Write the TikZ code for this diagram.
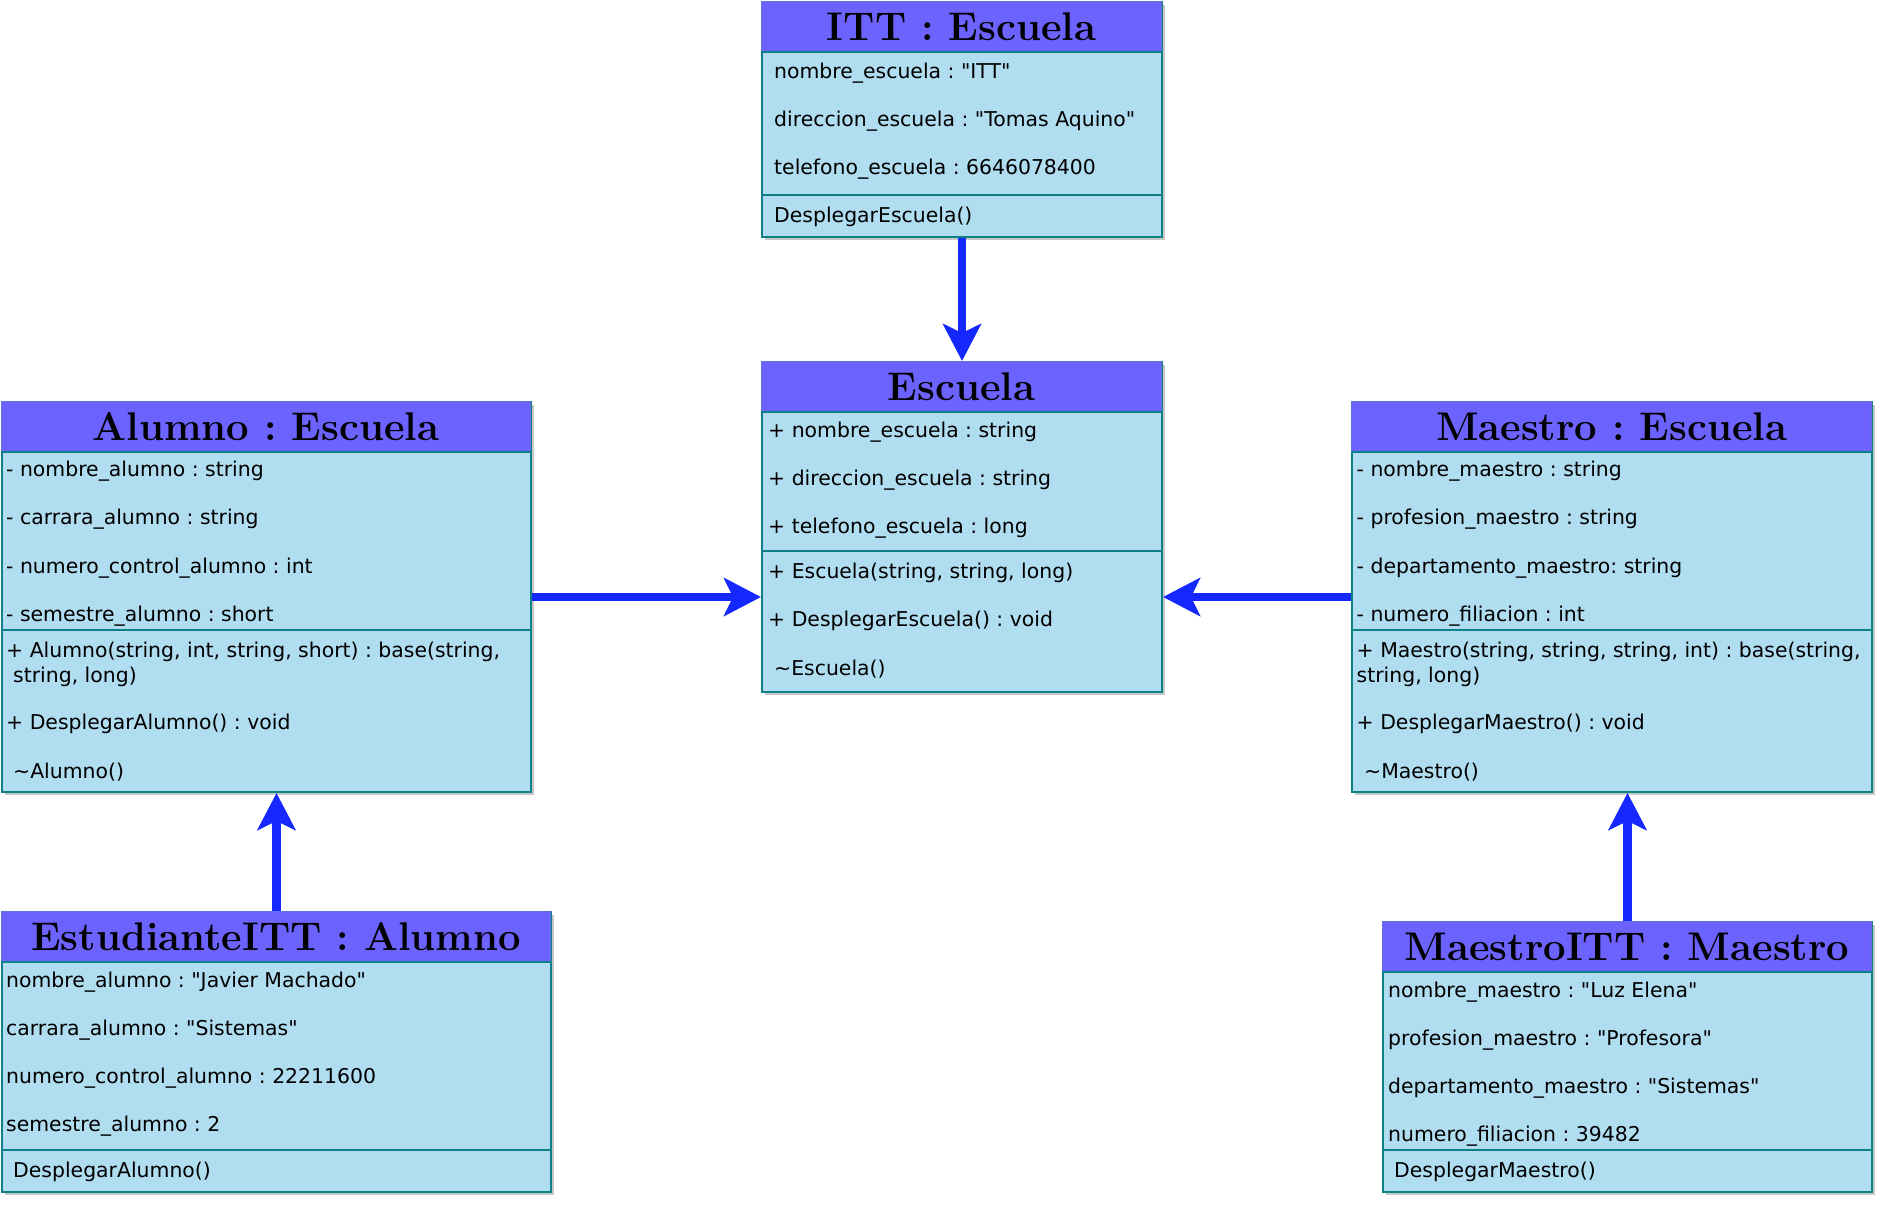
\documentclass[tikz,border=0pt]{standalone}
\usepackage{fontspec}
\newfontfamily\bodyfont{DejaVu Sans}
\usetikzlibrary{arrows.meta,shadows}
\definecolor{hdr}{RGB}{108,99,255}
\definecolor{hdrline}{RGB}{96,112,220}
\definecolor{bodyc}{RGB}{177,221,240}
\definecolor{edgec}{RGB}{14,128,136}
\definecolor{arrowblue}{RGB}{20,40,255}
\tikzset{
  classbox/.style={draw=edgec, line width=2pt, fill=bodyc, anchor=north west, inner sep=0pt,
    drop shadow={shadow xshift=3pt, shadow yshift=-3pt, opacity=0.22, fill=black}},
  headbox/.style={draw=hdrline, line width=1pt, fill=hdr, anchor=north west, inner sep=0pt,
    minimum height=50pt, font=\fontsize{40}{42}\selectfont\bfseries\frenchspacing},
  member/.style={anchor=west, inner sep=0pt, yshift=-3pt, font=\bodyfont\fontsize{20.4}{24}\selectfont\frenchspacing},
  divider/.style={draw=edgec, line width=2pt},
  inherit/.style={draw=arrowblue, line width=8.5pt, -{Stealth[length=37pt,width=38pt,inset=9pt]}}
}
\begin{document}
\frenchspacing
\begin{tikzpicture}[x=1pt,y=-1pt]
\useasboundingbox (0,0) rectangle (1884,1205);

% ---------- ITT : Escuela ----------
\node[classbox, minimum width=400pt, minimum height=235pt] (itt) at (761,1) {};
\node[headbox, minimum width=400pt] (itth) at (itt.north west) {ITT : Escuela};
\draw[divider] (itth.south west) -- (itth.south east);
\draw[divider] (itt.west |- 0,195) -- (itt.east |- 0,195);
\node[member] (itta1) at (774,69.7) {nombre\_escuela : "ITT"};
\node[member] (itta2) at (774,117.7) {direccion\_escuela : "Tomas Aquino"};
\node[member] (itta3) at (774,165.8) {telefono\_escuela : 6646078400};
\node[member] (ittm1) at (774,214) {DesplegarEscuela()};

% ---------- Escuela ----------
\node[classbox, minimum width=400pt, minimum height=330pt] (esc) at (761,361) {};
\node[headbox, minimum width=400pt] (esch) at (esc.north west) {Escuela};
\draw[divider] (esch.south west) -- (esch.south east);
\draw[divider] (esc.west |- 0,550.5) -- (esc.east |- 0,550.5);
\node[member] (esca1) at (768,429) {+ nombre\_escuela : string};
\node[member] (esca2) at (768,477) {+ direccion\_escuela : string};
\node[member] (esca3) at (768,525) {+ telefono\_escuela : long};
\node[member] (escm1) at (768,569.5) {+ Escuela(string, string, long)};
\node[member] (escm2) at (768,617.6) {+ DesplegarEscuela() : void};
\node[member] (escm3) at (774,665.6) {\textasciitilde Escuela()};

% ---------- Alumno : Escuela ----------
\node[classbox, minimum width=529pt, minimum height=390pt] (alu) at (1,401) {};
\node[headbox, minimum width=529pt] (aluh) at (alu.north west) {Alumno : Escuela};
\draw[divider] (aluh.south west) -- (aluh.south east);
\draw[divider] (alu.west |- 0,630) -- (alu.east |- 0,630);
\node[member] (alua1) at (6,468.6) {- nombre\_alumno : string};
\node[member] (alua2) at (6,516.6) {- carrara\_alumno : string};
\node[member] (alua3) at (6,564.7) {- numero\_control\_alumno : int};
\node[member] (alua4) at (6,612.8) {- semestre\_alumno : short};
\node[member] (alum1) at (6,648.8) {+ Alumno(string, int, string, short) : base(string,};
\node[member] (alum1b) at (13,674) {string, long)};
\node[member] (alum2) at (6,721) {+ DesplegarAlumno() : void};
\node[member] (alum3) at (13,769) {\textasciitilde Alumno()};

% ---------- Maestro : Escuela ----------
\node[classbox, minimum width=520pt, minimum height=390pt] (mae) at (1351,401) {};
\node[headbox, minimum width=520pt] (maeh) at (mae.north west) {Maestro : Escuela};
\draw[divider] (maeh.south west) -- (maeh.south east);
\draw[divider] (mae.west |- 0,630) -- (mae.east |- 0,630);
\node[member] (maea1) at (1356.5,468.6) {- nombre\_maestro : string};
\node[member] (maea2) at (1356.5,516.6) {- profesion\_maestro : string};
\node[member] (maea3) at (1356.5,564.7) {- departamento\_maestro: string};
\node[member] (maea4) at (1356.5,612.8) {- numero\_filiacion : int};
\node[member] (maem1) at (1356.5,648.8) {+ Maestro(string, string, string, int) : base(string,};
\node[member] (maem1b) at (1356.5,674) {string, long)};
\node[member] (maem2) at (1356.5,721) {+ DesplegarMaestro() : void};
\node[member] (maem3) at (1364,769) {\textasciitilde Maestro()};

% ---------- EstudianteITT : Alumno ----------
\node[classbox, minimum width=549pt, minimum height=280pt] (est) at (1,911) {};
\node[headbox, minimum width=549pt] (esth) at (est.north west) {EstudianteITT : Alumno};
\draw[divider] (esth.south west) -- (esth.south east);
\draw[divider] (est.west |- 0,1150) -- (est.east |- 0,1150);
\node[member] (esta1) at (6,979) {nombre\_alumno : "Javier Machado"};
\node[member] (esta2) at (6,1027) {carrara\_alumno : "Sistemas"};
\node[member] (esta3) at (6,1075) {numero\_control\_alumno : 22211600};
\node[member] (esta4) at (6,1123) {semestre\_alumno : 2};
\node[member] (estm1) at (13,1169) {DesplegarAlumno()};

% ---------- MaestroITT : Maestro ----------
\node[classbox, minimum width=489pt, minimum height=270pt] (mitt) at (1382,921) {};
\node[headbox, minimum width=489pt] (mitth) at (mitt.north west) {MaestroITT : Maestro};
\draw[divider] (mitth.south west) -- (mitth.south east);
\draw[divider] (mitt.west |- 0,1150) -- (mitt.east |- 0,1150);
\node[member] (mitta1) at (1388,988.8) {nombre\_maestro : "Luz Elena"};
\node[member] (mitta2) at (1388,1036.9) {profesion\_maestro : "Profesora"};
\node[member] (mitta3) at (1388,1085) {departamento\_maestro : "Sistemas"};
\node[member] (mitta4) at (1388,1133) {numero\_filiacion : 39482};
\node[member] (mittm1) at (1394,1169) {DesplegarMaestro()};

% ---------- connectors ----------
\draw[inherit] (itt.south) -- (esc.north);
\draw[inherit] (alu.east) -- (alu.east -| esc.west);
\draw[inherit] (mae.west) -- (mae.west -| esc.east);
\draw[inherit] (est.north) -- (est.north |- alu.south);
\draw[inherit] (mitt.north) -- (mitt.north |- mae.south);
\end{tikzpicture}
\end{document}
